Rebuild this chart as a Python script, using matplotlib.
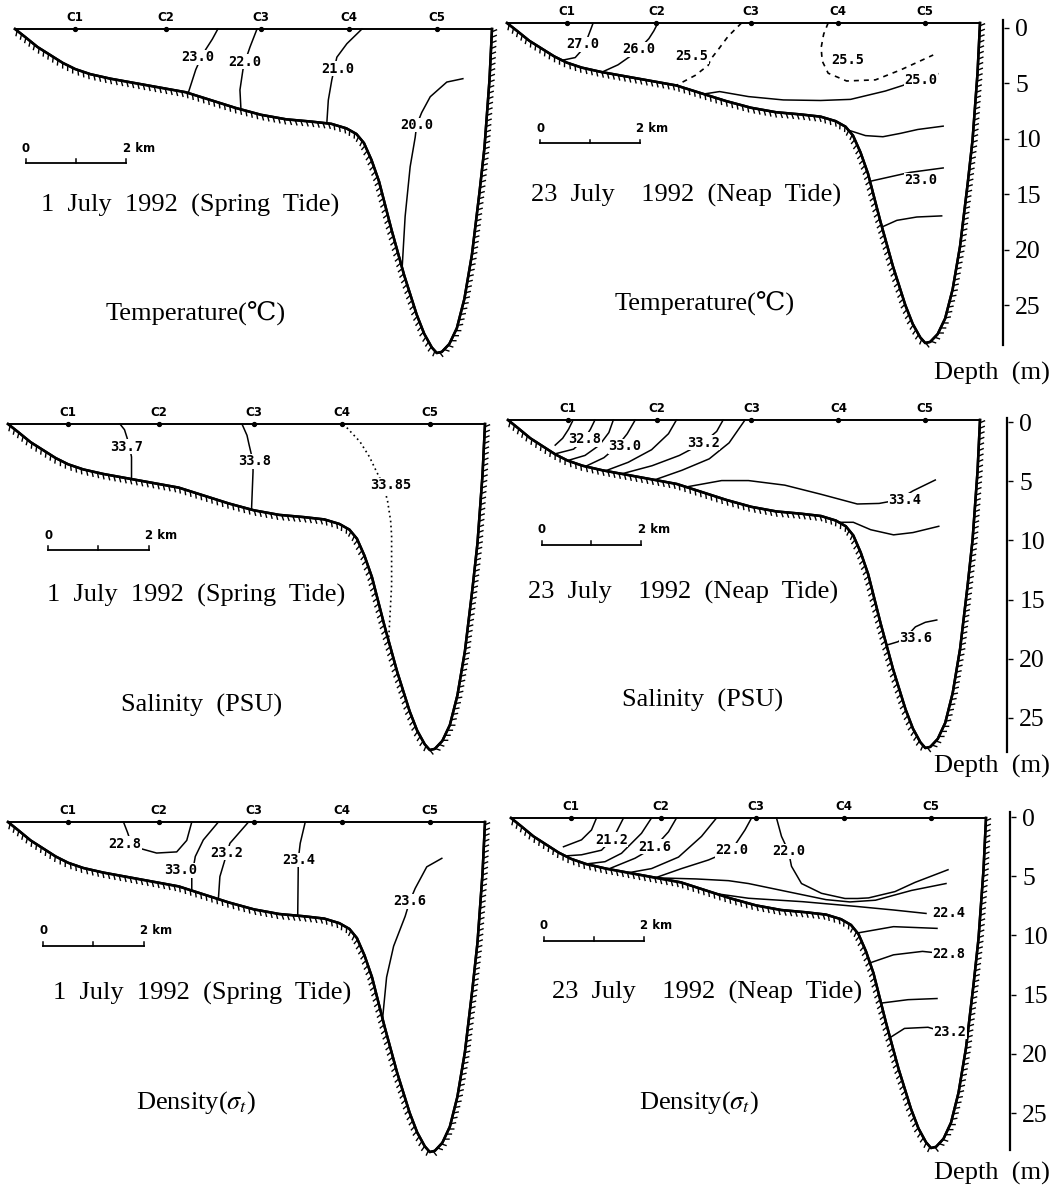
import matplotlib
matplotlib.use("Agg")
import matplotlib.pyplot as plt
import matplotlib.patheffects as pe

plt.rcParams['font.family'] = ['Liberation Serif', 'DejaVu Serif', 'DejaVu Sans']
plt.rcParams['mathtext.fontset'] = 'stix'

W, H = 1063, 1187

# bottom profile along the section (distance km, depth m)
bot_x = [0, 0.2, 0.45, 0.7, 0.95, 1.2, 1.5, 1.9, 2.4, 2.9, 3.4, 3.9, 4.4, 4.9, 5.4, 5.9,
         6.3, 6.6, 6.8, 6.95, 7.1, 7.25, 7.5, 7.75, 8.0, 8.15, 8.3, 8.4, 8.5, 8.65, 8.8,
         8.95, 9.1, 9.25, 9.35, 9.45, 9.5]
bot_d = [0, 0.7, 1.6, 2.3, 3.0, 3.55, 4.0, 4.4, 4.8, 5.2, 5.6, 6.3, 7.0, 7.6, 8.0, 8.2,
         8.4, 8.8, 9.3, 10.1, 11.6, 13.5, 17.8, 21.8, 25.3, 27.0, 28.2, 28.7, 28.6, 27.9, 26.5,
         23.9, 20.0, 14.5, 10.5, 4.5, 0]
section_len = 9.5
max_depth = 28.7

stations = ['C1', 'C2', 'C3', 'C4', 'C5']
station_x = [1.2, 3.0, 4.9, 6.65, 8.4]

# temperature, 1 July (spring tide)
temp_spring = [
    ([4.04, 3.93, 3.8, 3.7, 3.6, 3.45], [0, 0.9, 1.8, 2.6, 3.6, 5.67]),
    ([4.82, 4.68, 4.58, 4.54, 4.48, 4.5], [0, 1.6, 2.9, 3.6, 5.4, 7.12]),
    ([6.91, 6.61, 6.41, 6.36, 6.31, 6.24, 6.21], [0, 1.3, 2.5, 3.5, 4.5, 6.3, 8.36]),
    ([8.92, 8.6, 8.27, 8.1, 8.0, 7.97, 7.87, 7.77, 7.71], [4.4, 4.7, 6.0, 7.4, 8.5, 9.6, 12.2, 16.6, 21.2]),
]
temp_spring_lab = [('23.0', 3.63, 2.5), ('22.0', 4.58, 2.9), ('21.0', 6.43, 3.5), ('20.0', 8.0, 8.5)]

# temperature, 23 July (neap tide)
temp_neap = [
    ([1.73, 1.68, 1.62, 1.53, 1.37, 1.1], [0, 0.6, 1.3, 2.3, 3.1, 3.35]),
    ([3.03, 2.95, 2.85, 2.68, 2.47, 2.23, 1.91], [0, 0.7, 1.4, 2.2, 3.0, 3.75, 4.4]),
    ([3.95, 4.27, 4.85, 5.55, 6.3, 6.9, 7.6, 7.95, 8.3, 8.65], [6.37, 6.15, 6.6, 6.9, 6.95, 6.85, 6.1, 5.6, 5.0, 4.55]),
    ([6.85, 7.2, 7.55, 7.9, 8.25, 8.76], [9.6, 10.1, 10.2, 9.9, 9.55, 9.25]),
    ([7.29, 7.69, 8.09, 8.76], [14.2, 13.8, 13.4, 13.0]),
    ([7.53, 7.83, 8.23, 8.73], [18.3, 17.7, 17.4, 17.3]),
]
temp_neap_dash = [
    ([4.71, 4.44, 4.24, 4.1, 4.04, 3.78, 3.4], [0, 1.2, 2.4, 3.2, 3.8, 4.7, 5.6]),
    ([6.45, 6.36, 6.31, 6.33, 6.45, 6.82, 7.4, 7.91, 8.56], [0, 1.0, 2.2, 3.4, 4.5, 5.2, 5.1, 4.2, 2.87]),
]
temp_neap_lab = [('27.0', 1.52, 1.9), ('26.0', 2.64, 2.36), ('25.5', 3.72, 3.0),
                 ('25.5', 6.85, 3.3), ('25.0', 8.32, 5.1), ('23.0', 8.32, 14.1)]

# salinity, 1 July (spring tide)
sal_spring = [
    ([2.23, 2.32, 2.37, 2.42, 2.46, 2.46], [0, 0.5, 1.2, 2.0, 2.9, 4.85]),
    ([4.66, 4.76, 4.8, 4.88, 4.88, 4.85], [0, 1.0, 1.8, 3.3, 4.2, 7.54]),
]
sal_spring_dot = [
    ([6.68, 7.01, 7.2, 7.34, 7.48, 7.56, 7.62, 7.64, 7.64, 7.58], [0, 1.56, 2.9, 4.2, 5.4, 6.8, 8.5, 9.8, 14.2, 19.1]),
]
sal_spring_lab = [('33.7', 2.37, 2.0), ('33.8', 4.92, 3.3), ('33.85', 7.62, 5.4)]

# salinity, 23 July (neap tide)
sal_neap = [
    ([1.31, 1.22, 1.1, 0.95], [0, 0.8, 1.6, 2.2]),
    ([1.75, 1.66, 1.53, 1.32, 0.94], [0, 0.8, 1.7, 2.55, 2.97]),
    ([2.12, 2.03, 1.84, 1.55, 1.2], [0, 1.1, 2.2, 3.1, 3.55]),
    ([2.56, 2.4, 2.2, 1.93, 1.56], [0, 1.2, 2.3, 3.3, 4.06]),
    ([3.39, 3.23, 2.89, 2.42, 1.96], [0, 1.2, 2.6, 3.7, 4.45]),
    ([4.33, 4.2, 3.93, 3.45, 2.9, 2.29], [0, 1.0, 2.0, 3.1, 4.0, 4.71]),
    ([4.77, 4.45, 4.05, 3.5, 2.95], [0, 2.0, 3.4, 4.4, 5.24]),
    ([3.6, 4.3, 4.84, 5.57, 6.3, 7.03, 7.47, 7.85, 8.15, 8.6], [5.85, 5.3, 5.3, 5.7, 6.5, 7.35, 7.3, 7.0, 6.2, 5.25]),
    ([6.66, 6.95, 7.3, 7.76, 8.15, 8.67], [8.95, 8.95, 9.6, 10.05, 9.85, 9.3]),
    ([7.62, 7.85, 8.05, 8.2, 8.4, 8.63], [19.7, 19.4, 18.8, 18.1, 17.7, 17.5]),
]
sal_neap_lab = [('32.8', 1.55, 1.7), ('33.0', 2.35, 2.3), ('33.2', 3.93, 2.0),
                ('33.4', 7.98, 7.0), ('33.6', 8.2, 19.1)]

# density, 1 July (spring tide)
den_spring = [
    ([2.3, 2.38, 2.45, 2.63, 2.96, 3.36, 3.56, 3.66], [0, 0.9, 1.8, 2.3, 2.7, 2.6, 1.6, 0]),
    ([4.19, 3.89, 3.73, 3.66, 3.66], [0, 1.56, 3.0, 4.75, 5.96]),
    ([4.79, 4.42, 4.36, 4.22, 4.19], [0, 1.85, 2.7, 4.75, 6.7]),
    ([5.92, 5.82, 5.78, 5.78, 5.77], [0, 1.85, 3.3, 4.2, 8.15]),
    ([8.64, 8.34, 8.11, 8.0, 7.91, 7.68, 7.54, 7.46], [3.16, 3.9, 5.77, 6.9, 8.2, 10.8, 13.5, 17.1]),
]
den_spring_lab = [('22.8', 2.33, 1.9), ('33.0', 3.44, 4.2), ('23.2', 4.36, 2.7),
                  ('23.4', 5.8, 3.3), ('23.6', 8.0, 6.9)]

# density, 23 July (neap tide)
den_neap = [
    ([1.71, 1.61, 1.41, 1.05], [0, 1.04, 1.9, 2.5]),
    ([2.25, 2.11, 2.01, 1.81, 1.41, 1.08], [0, 1.2, 1.9, 2.8, 3.2, 3.3]),
    ([2.81, 2.61, 2.21, 1.88, 1.5], [0, 1.33, 3.07, 3.8, 4.0]),
    ([3.31, 3.15, 2.88, 2.48, 1.95], [0, 1.2, 2.5, 3.5, 4.44]),
    ([4.11, 3.81, 3.35, 2.81, 2.35], [0, 1.6, 3.4, 4.4, 4.76]),
    ([4.81, 4.68, 4.41, 3.95, 3.41, 2.88], [0, 1.04, 2.8, 3.65, 4.4, 5.21]),
    ([5.31, 5.41, 5.55, 5.61, 5.81, 6.21, 6.68, 6.93, 7.15, 7.68, 8.08, 8.74],
     [0, 1.6, 2.9, 4.2, 5.7, 6.55, 7.0, 7.0, 6.95, 6.4, 5.6, 4.5]),
    ([2.87, 3.7, 4.35, 4.75, 5.69, 6.3, 6.78, 7.29, 8.01, 8.7], [5.2, 5.3, 5.45, 5.7, 6.55, 7.1, 7.3, 7.15, 6.3, 5.7]),
    ([4.1, 4.75, 5.84, 6.93, 7.65, 8.3], [6.58, 6.98, 7.28, 7.7, 8.0, 8.3]),
    ([6.93, 7.65, 8.52], [10.0, 9.45, 9.6]),
    ([7.18, 7.65, 8.23, 8.45], [12.6, 11.9, 11.6, 11.7]),
    ([7.4, 7.94, 8.52], [16.1, 15.8, 15.7]),
    ([7.58, 7.87, 8.34, 8.5], [19.1, 18.3, 18.2, 18.4]),
]
den_neap_lab = [('21.2', 2.01, 1.9), ('21.6', 2.88, 2.5), ('22.0', 4.41, 2.8), ('22.0', 5.55, 2.9),
                ('22.4', 8.75, 8.3), ('22.8', 8.75, 11.8), ('23.2', 8.78, 18.6)]

depth_ticks = [0, 5, 10, 15, 20, 25]

fig = plt.figure(figsize=(W / 100, H / 100), dpi=100)


def section(box, solid, labels, bar, dashed=(), dotted=()):
    left, right, top, bot = box
    ax = fig.add_axes([left / W, 1 - bot / H, (right - left) / W, (bot - top) / H])
    ax.set_xlim(0, section_len)
    ax.set_ylim(max_depth, 0)
    ax.axis('off')
    ax.plot([0, section_len], [0, 0], color='k', lw=1.4, clip_on=False)
    ax.plot(bot_x, bot_d, color='k', lw=1.8, clip_on=False, solid_joinstyle='round',
            path_effects=[pe.withTickedStroke(angle=-65, spacing=4.0, length=0.9, linewidth=1.0),
                          pe.Normal()])
    ax.plot(station_x, [0] * len(station_x), 'o', color='k', ms=2.8, clip_on=False)
    for name, sx in zip(stations, station_x):
        ax.annotate(name, (sx, 0), xytext=(0, 8), textcoords='offset points',
                    ha='center', va='center', fontsize=8.5, weight='bold',
                    family='DejaVu Sans')
    for xs, ds in solid:
        ax.plot(xs, ds, color='k', lw=1.1, clip_on=False)
    for xs, ds in dashed:
        ax.plot(xs, ds, color='k', lw=1.2, dashes=(3, 3), clip_on=False)
    for xs, ds in dotted:
        ax.plot(xs, ds, color='k', lw=1.2, dashes=(1, 2), clip_on=False)
    for s, lx, ld in labels:
        ax.text(lx, ld, s, ha='center', va='center', fontsize=9.8, weight='bold',
                family='DejaVu Sans Mono', zorder=5,
                bbox=dict(fc='white', ec='none', pad=0.3))
    # 2 km scale bar
    x0, db = bar
    ax.plot([x0, x0 + 2], [db, db], color='k', lw=1.3, clip_on=False)
    for xt in (x0, x0 + 1, x0 + 2):
        ax.plot([xt, xt], [db, db - 0.35], color='k', lw=1.1, clip_on=False)
    ax.text(x0, db - 1.3, '0', ha='center', va='center', fontsize=8.5, weight='bold', family='DejaVu Sans')
    ax.text(x0 + 1.93, db - 1.3, '2 km', ha='left', va='center', fontsize=8.5, weight='bold',
            family='DejaVu Sans')
    return ax


def depth_axis(xp, y0, y25, lo, hi, label_y):
    s = (y25 - y0) / 25.0
    ax = fig.add_axes([xp / W, 1 - (y0 + hi * s) / H, 0.0005, (hi - lo) * s / H])
    ax.set_ylim(hi, lo)
    for k in ('top', 'bottom', 'right'):
        ax.spines[k].set_visible(False)
    ax.spines['left'].set_linewidth(1.6)
    ax.set_xticks([])
    ax.set_yticks(depth_ticks)
    ax.tick_params(axis='y', left=False, right=True, labelleft=False, labelright=True,
                   length=3.5, width=1.0, pad=5, labelsize=18.5)
    fig.text(992 / W, 1 - label_y / H, 'Depth  (m)', ha='center', va='center', fontsize=19)


def ftext(x, y, s, size=19):
    fig.text(x / W, 1 - y / H, s, ha='center', va='center', fontsize=size)


section((15, 492, 29, 353), temp_spring, temp_spring_lab, (0.22, 11.9))
section((507, 980, 23, 343), temp_neap, temp_neap_lab, (0.67, 10.8), dashed=temp_neap_dash)
section((8, 485, 424, 750), sal_spring, sal_spring_lab, (0.8, 11.1), dotted=sal_spring_dot)
section((508, 980, 420, 748), sal_neap, sal_neap_lab, (0.68, 10.9))
section((8, 485, 822, 1152), den_spring, den_spring_lab, (0.7, 10.75))
section((511, 986, 818, 1148), den_neap, den_neap_lab, (0.66, 10.67))

depth_axis(1003, 28, 305, -0.7, 28.6, 373)
depth_axis(1007, 422, 718, -0.35, 27.9, 766)
depth_axis(1010, 817, 1113, -0.4, 28.1, 1173)

spring = '1  July  1992  (Spring  Tide)'
neap = '23  July    1992  (Neap  Tide)'
ftext(190, 205, spring)
ftext(196, 313, 'Temperature(℃)')
ftext(686, 195, neap)
ftext(705, 303, 'Temperature(℃)')
ftext(196, 595, spring)
ftext(202, 705, 'Salinity  (PSU)')
ftext(683, 592, neap)
ftext(703, 700, 'Salinity  (PSU)')
ftext(202, 993, spring)
ftext(196, 1103, r'Density($\sigma_t$)')
ftext(707, 992, neap)
ftext(699, 1103, r'Density($\sigma_t$)')

fig.savefig('out.png', dpi=100)
